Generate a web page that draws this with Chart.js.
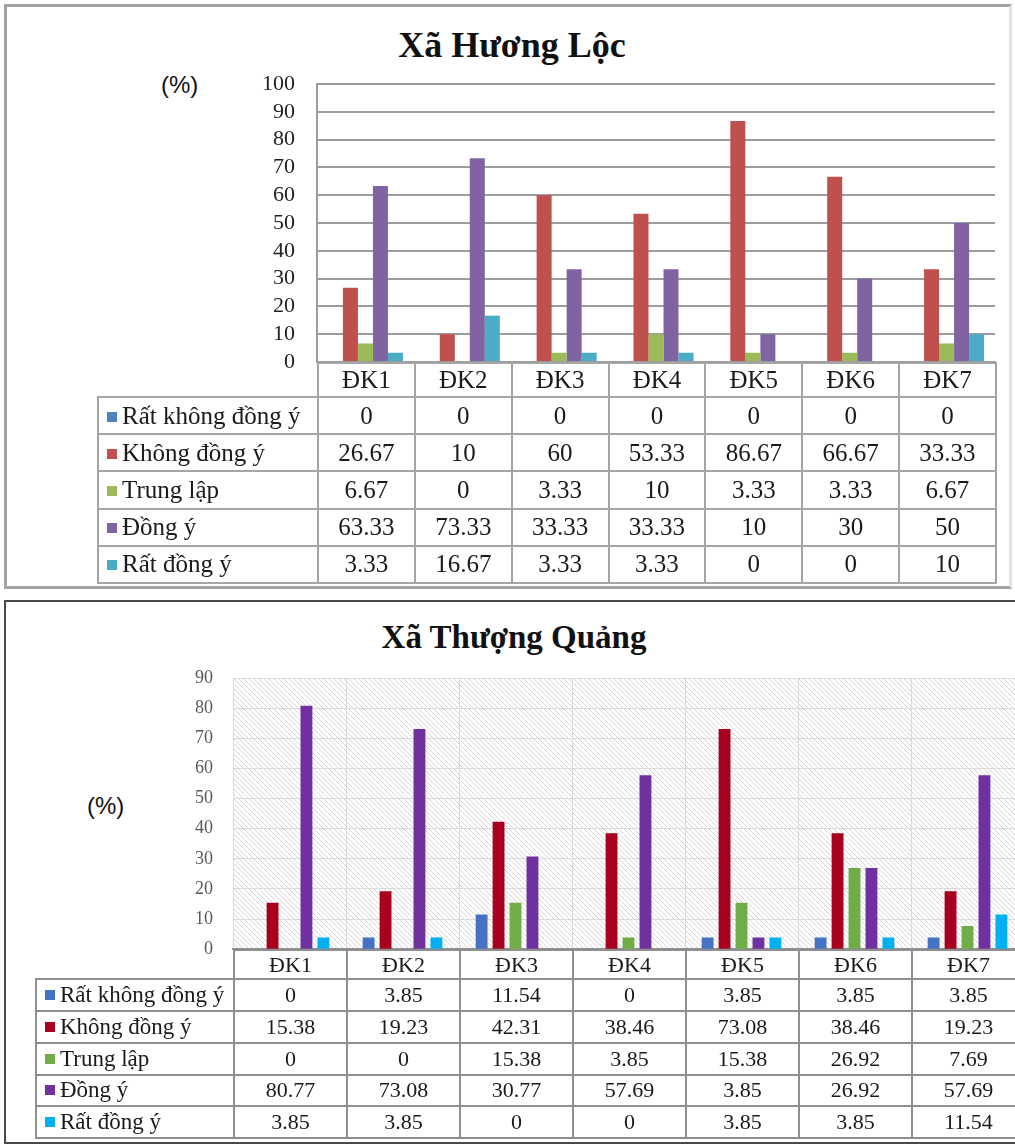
<!DOCTYPE html>
<html lang="vi">
<head>
<meta charset="utf-8">
<title>Xã Hương Lộc / Xã Thượng Quảng</title>
<script src="https://cdn.jsdelivr.net/npm/chart.js@4.4.1/dist/chart.umd.min.js"></script>
<style>
  html, body { margin: 0; padding: 0; background: #fff; }
  body { position: relative; width: 1015px; height: 1147px; overflow: hidden; }
  .panel { position: absolute; box-sizing: border-box; }
  #panel1 { left: 4px; top: 4px; width: 1008px; height: 585px; border: 3px solid #a3a3a3; border-right-color: #e4e4e4; }
  #panel2 { left: 4px; top: 600px; width: 1100px; height: 544px; border: 2px solid #4a4a4a; }
  canvas { position: absolute; left: 0; }
  .title { position: absolute; font-family: "Liberation Serif", "Times New Roman", serif; font-weight: bold;
           line-height: 36px; color: #111; white-space: nowrap; transform: translateX(-50%); }
  .unit { position: absolute; font-family: "Liberation Sans", "Noto Sans", sans-serif; font-size: 24px; line-height: 28px; color: #111; }
  table.data { position: absolute; border-collapse: collapse; table-layout: fixed;
               font-family: "Liberation Serif", "Times New Roman", serif; color: #1a1a1a; }
  table.data td { text-align: center; padding: 0; white-space: nowrap; overflow: hidden; }
  table.data td.lg { text-align: left; padding-left: 8px; }
  .sw { display: inline-block; width: 10px; height: 10px; margin-right: 5px; vertical-align: 2px; }
  #tbl1 td { border: 2px solid #a5a5a5; font-size: 25px; }
  #tbl2 td { border: 2px solid #8f8f8f; font-size: 22px; }
  #tbl2 td.lg { font-size: 23px; }
  #tbl1 td.blank, #tbl2 td.blank { border: none; }
</style>
</head>
<body>
<div class="panel" id="panel1"></div>
<div class="panel" id="panel2"></div>

<div class="title" style="left:512px; top:27px; font-size:36px;">Xã Hương Lộc</div>
<div class="unit" style="left:161px; top:71px;">(%)</div>
<canvas id="chart1" width="1015" height="400" style="top:0px;"></canvas>
<table class="data" id="tbl1"></table>

<div class="title" style="left:514px; top:619px; font-size:33px;">Xã Thượng Quảng</div>
<div class="unit" style="left:87px; top:792px;">(%)</div>
<canvas id="chart2" width="1100" height="380" style="top:600px;"></canvas>
<table class="data" id="tbl2"></table>

<script>
/* ====== DATA ====== */
const categories = ['ĐK1', 'ĐK2', 'ĐK3', 'ĐK4', 'ĐK5', 'ĐK6', 'ĐK7'];
const seriesNames = ['Rất không đồng ý', 'Không đồng ý', 'Trung lập', 'Đồng ý', 'Rất đồng ý'];

// Xã Hương Lộc
const hlRatKhongDongY = [0, 0, 0, 0, 0, 0, 0];
const hlKhongDongY    = [26.67, 10, 60, 53.33, 86.67, 66.67, 33.33];
const hlTrungLap      = [6.67, 0, 3.33, 10, 3.33, 3.33, 6.67];
const hlDongY         = [63.33, 73.33, 33.33, 33.33, 10, 30, 50];
const hlRatDongY      = [3.33, 16.67, 3.33, 3.33, 0, 0, 10];
const hlTicks = { min: 0, max: 100, step: 10 };

// Xã Thượng Quảng
const tqRatKhongDongY = [0, 3.85, 11.54, 0, 3.85, 3.85, 3.85];
const tqKhongDongY    = [15.38, 19.23, 42.31, 38.46, 73.08, 38.46, 19.23];
const tqTrungLap      = [0, 0, 15.38, 3.85, 15.38, 26.92, 7.69];
const tqDongY         = [80.77, 73.08, 30.77, 57.69, 3.85, 26.92, 57.69];
const tqRatDongY      = [3.85, 3.85, 0, 0, 3.85, 3.85, 11.54];
const tqTicks = { min: 0, max: 90, step: 10 };

const colorsHL = ['#4F81BD', '#C0504D', '#9BBB59', '#8064A2', '#4BACC6'];
const colorsTQ = ['#4472C4', '#A8001F', '#70AD47', '#7030A0', '#00B0F0'];

/* ====== HELPERS ====== */
function makeDatasets(values, colors, catPct, barPct) {
    return values.map((vals, i) => ({
        label: seriesNames[i],
        data: vals,
        backgroundColor: colors[i],
        borderWidth: 0,
        categoryPercentage: catPct,
        barPercentage: barPct
    }));
}

// diagonal hatch used behind the second chart's bars
function hatchPattern(ctx) {
    const tile = document.createElement('canvas');
    tile.width = 5; tile.height = 5;
    const t = tile.getContext('2d');
    t.fillStyle = '#ffffff';
    t.fillRect(0, 0, 5, 5);
    t.strokeStyle = '#d6d6d6';
    t.lineWidth = 1;
    t.beginPath();
    t.moveTo(-1, -1); t.lineTo(6, 6);
    t.moveTo(-1, 4); t.lineTo(1, 6);
    t.moveTo(4, -1); t.lineTo(6, 1);
    t.stroke();
    return ctx.createPattern(tile, 'repeat');
}

const plotBackground = {
    id: 'plotBackground',
    beforeDraw(chart, args, opts) {
        if (!opts.hatch) return;
        const { ctx, chartArea: a } = chart;
        ctx.save();
        ctx.fillStyle = hatchPattern(ctx);
        ctx.fillRect(a.left, a.top, a.right - a.left, a.bottom - a.top);
        ctx.restore();
    }
};

function makeChart(id, values, colors, cfg) {
    const ctx = document.getElementById(id).getContext('2d');
    return new Chart(ctx, {
        type: 'bar',
        data: { labels: categories, datasets: makeDatasets(values, colors, cfg.catPct, cfg.barPct) },
        plugins: [plotBackground],
        options: {
            responsive: false,
            animation: false,
            layout: { padding: cfg.padding },
            plugins: {
                legend: { display: false },
                tooltip: { enabled: false },
                plotBackground: { hatch: cfg.hatch }
            },
            scales: {
                x: {
                    afterFit: s => { s.height = 0; },
                    ticks: { display: false },
                    grid: { display: cfg.xGrid, color: cfg.gridColor, lineWidth: 1, drawTicks: false, offset: true },
                    border: { display: true, color: cfg.axisColor, width: 2 }
                },
                y: {
                    min: cfg.ticks.min,
                    max: cfg.ticks.max,
                    afterFit: s => { s.width = cfg.axisWidth; },
                    ticks: {
                        stepSize: cfg.ticks.step,
                        autoSkip: false,
                        padding: cfg.tickPad,
                        color: cfg.tickColor,
                        font: { family: 'Liberation Serif, Times New Roman, serif', size: cfg.tickSize }
                    },
                    grid: { color: cfg.gridColor, lineWidth: cfg.gridWidth, drawTicks: false },
                    border: { display: cfg.yBorder, color: cfg.axisColor, width: 2 }
                }
            }
        }
    });
}

/* Data table under the plot, columns lined up with the x scale */
function buildTable(chart, tableId, values, colors, canvasTop, legendLeft, headH, rowH) {
    const tbl = document.getElementById(tableId);
    const a = chart.chartArea;
    const catW = (a.right - a.left) / categories.length;
    const legendW = a.left - legendLeft;

    let html = '<colgroup><col style="width:' + legendW + 'px">';
    categories.forEach(() => { html += '<col style="width:' + catW + 'px">'; });
    html += '</colgroup>';

    html += '<tr style="height:' + headH + 'px"><td class="blank"></td>';
    categories.forEach(c => { html += '<td>' + c + '</td>'; });
    html += '</tr>';

    values.forEach((vals, i) => {
        html += '<tr style="height:' + rowH + 'px"><td class="lg"><span class="sw" style="background:' + colors[i] + '"></span>' + seriesNames[i] + '</td>';
        vals.forEach(v => { html += '<td>' + String(v) + '</td>'; });
        html += '</tr>';
    });

    tbl.innerHTML = html;
    tbl.style.left = legendLeft + 'px';
    tbl.style.top = (canvasTop + a.bottom) + 'px';
    tbl.style.width = (legendW + catW * categories.length) + 'px';
}

/* ====== CHART 1: Xã Hương Lộc ====== */
const hlValues = [hlRatKhongDongY, hlKhongDongY, hlTrungLap, hlDongY, hlRatDongY];
const chart1 = makeChart('chart1', hlValues, colorsHL, {
    catPct: 0.775, barPct: 1.0,
    padding: { top: 84, right: 20, bottom: 38, left: 0 },
    axisWidth: 317, tickPad: 22, tickSize: 22, tickColor: '#222',
    ticks: hlTicks, gridColor: '#9c9c9c', gridWidth: 2, xGrid: false,
    axisColor: '#9c9c9c', yBorder: true, hatch: false
});
buildTable(chart1, 'tbl1', hlValues, colorsHL, 0, 97, 34, 37.2);

/* ====== CHART 2: Xã Thượng Quảng ====== */
const tqValues = [tqRatKhongDongY, tqKhongDongY, tqTrungLap, tqDongY, tqRatDongY];
const chart2 = makeChart('chart2', tqValues, colorsTQ, {
    catPct: 0.75, barPct: 0.7,
    padding: { top: 78, right: 76, bottom: 29, left: 0 },
    axisWidth: 233, tickPad: 20, tickSize: 18, tickColor: '#595959',
    ticks: tqTicks, gridColor: '#dadada', gridWidth: 1, xGrid: true,
    axisColor: '#8f8f8f', yBorder: false, hatch: true
});
buildTable(chart2, 'tbl2', tqValues, colorsTQ, 600, 35, 29, 31.8);
</script>
</body>
</html>
